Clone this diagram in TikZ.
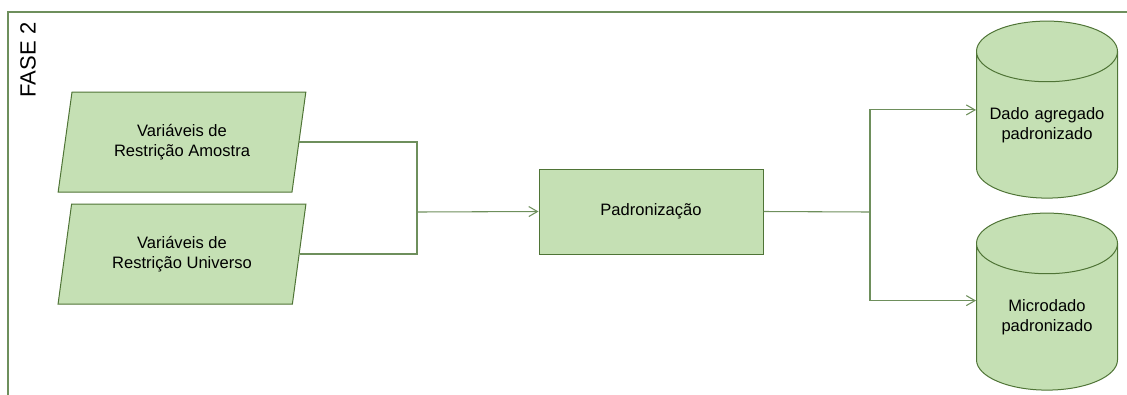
\documentclass[tikz,border=0pt]{standalone}
\usepackage{fontspec}
\setmainfont{Liberation Sans}
\usetikzlibrary{arrows.meta,shapes.geometric}
\definecolor{boxfill}{HTML}{C5E0B4}
\definecolor{boxedge}{HTML}{4F7436}
\definecolor{linkline}{HTML}{6E8F5C}
\tikzset{
	inputdata/.style={
			trapezium, trapezium left angle=76.5, trapezium right angle=103.5, trapezium stretches=true,
			draw=boxedge, fill=boxfill, line width=0.75pt, minimum width=186pt, minimum height=75pt,
			inner sep=0pt, align=center, font=\fontsize{12.4}{15}\selectfont
		},
	process/.style={
			rectangle, draw=boxedge, fill=boxfill, line width=0.75pt, minimum width=168pt, minimum height=63.75pt,
			align=center, font=\fontsize{12.4}{15}\selectfont
		},
	store/.style={
			cylinder, shape border rotate=90, shape aspect=0.43,
			draw=boxedge, fill=boxfill, line width=0.75pt, minimum width=105.75pt, minimum height=132.75pt,
			inner sep=0pt, text width=105.75pt, align=center, font=\fontsize{12.4}{15}\selectfont
		},
	link/.style={draw=linkline, line width=0.8pt}
}

\begin{document}
\begin{tikzpicture}[x=0.75pt, y=0.75pt, >={Straight Barb[length=6.5pt, width=7.5pt]}]
		\useasboundingbox (0,0) rectangle (1127,-394);

		% Frame
		\draw[draw=linkline, line width=0.8pt] (8,-400) -- (8,-12) -- (1140,-12);
		\node[rotate=90, font=\fontsize{16.5}{20}\selectfont] (fase) at (28,-60) {FASE 2};

		% Inputs
		\node[inputdata] (amostra) at (182,-142) {Variáveis de\\Restrição Amostra};
		\node[inputdata] (universo) at (182,-254) {Variáveis de\\Restrição Universo};

		% Standardisation
		\node[process] (padron) at (651,-211.5) {Padronização};

		% Outputs
		\node[store] (agregado) at (1047,-125) {Dado agregado\\padronizado};
		\node[store] (micro) at (1047,-317) {Microdado\\padronizado};

		% Links
		\coordinate (join) at (417,-212);
		\coordinate (split) at (870,-212);
		\draw[link] (amostra.east) -| (join) |- (universo.east);
		\draw[link, ->] (join) -- (padron.west);
		\draw[link] (padron.east) -- (split);
		\draw[link, ->] (split) |- (agregado.168.77);
		\draw[link, ->] (split) |- (micro.167.2);
	\end{tikzpicture}
\end{document}
